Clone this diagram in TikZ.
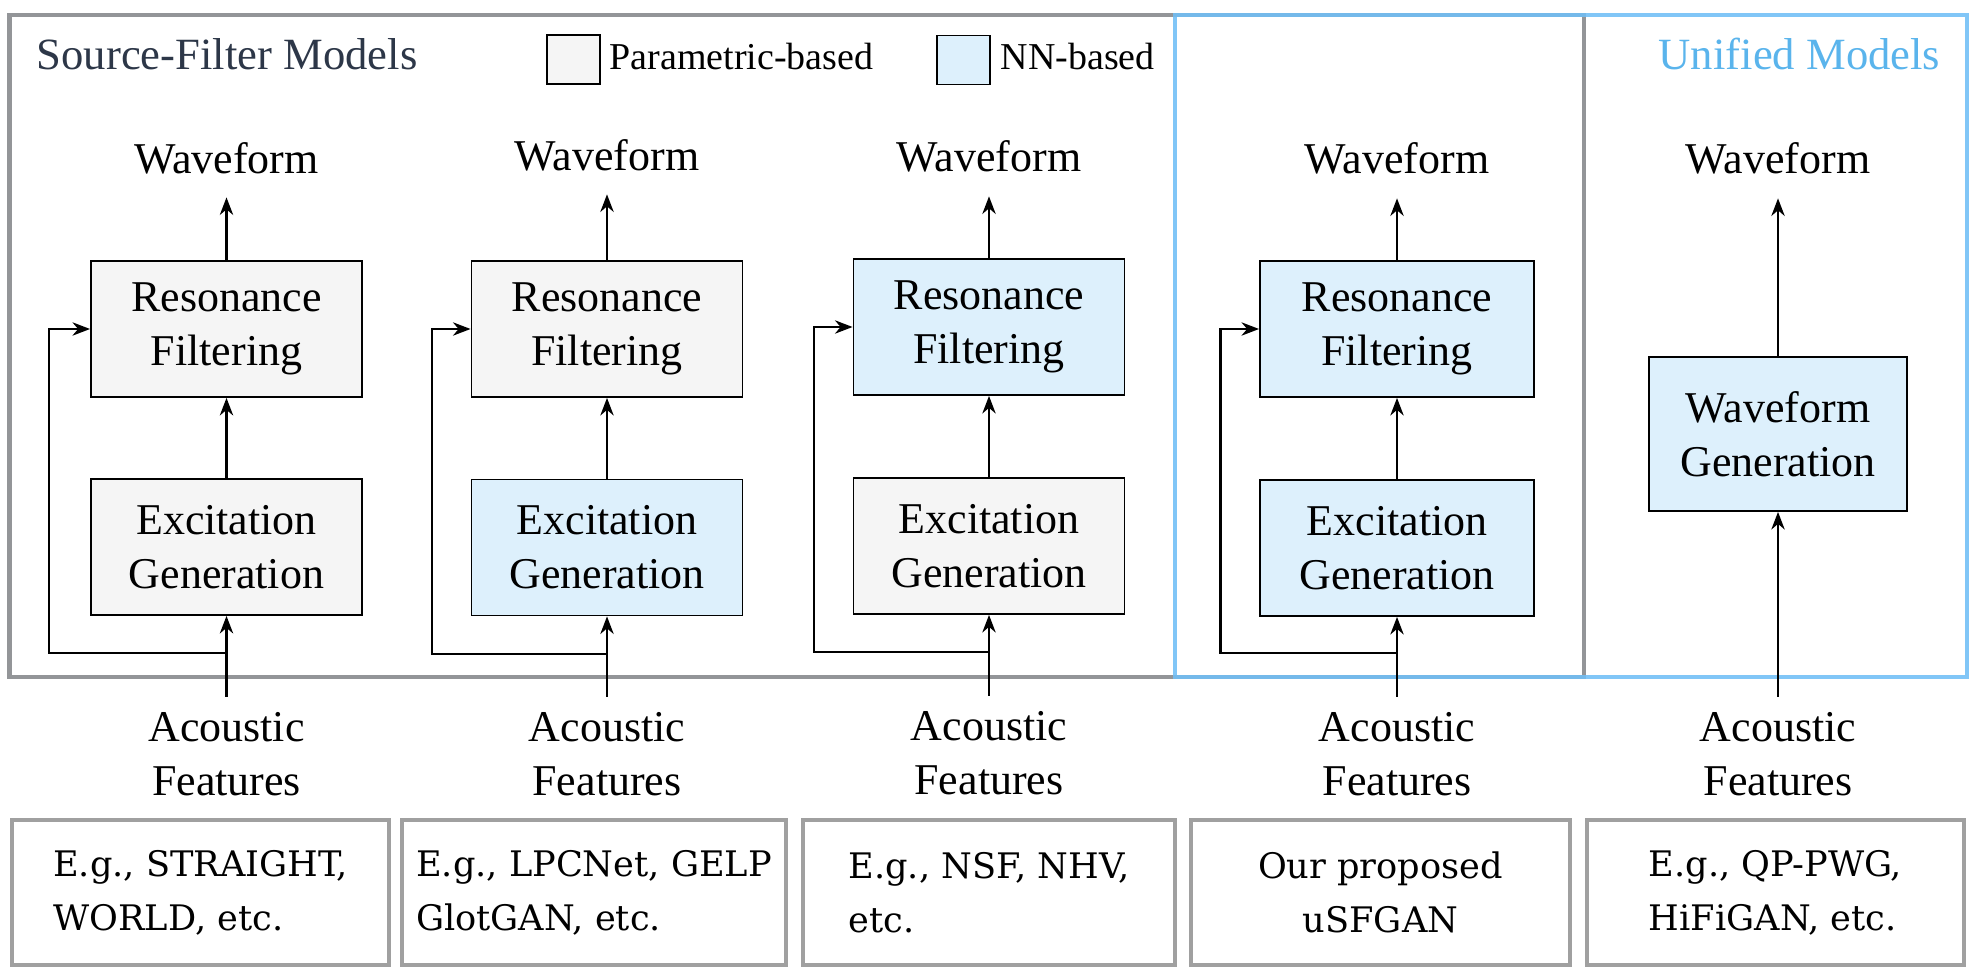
\documentclass[tikz,border=0pt]{standalone}
\usepackage{fontspec}
\setmainfont{Liberation Serif}
\newfontfamily\exfont{DejaVu Serif}
\usetikzlibrary{arrows.meta}
\definecolor{pgray}{RGB}{245,245,245}
\definecolor{nnblue}{RGB}{221,240,252}
\definecolor{framegray}{RGB}{147,149,152}
\definecolor{boxgray}{RGB}{160,160,160}
\definecolor{frameblue}{RGB}{112,190,246}
\definecolor{titleblue}{RGB}{90,180,236}
\definecolor{titledark}{RGB}{45,55,72}
\newcommand{\mainsz}{\fontsize{12.5}{15.3}\selectfont}
\newcommand{\legsz}{\fontsize{10.8}{13}\selectfont}
\newcommand{\titsz}{\fontsize{12.7}{15}\selectfont}
\newcommand{\exsz}{\exfont\fontsize{10}{15.4}\selectfont}
\begin{document}
\begin{tikzpicture}[x=0.01cm,y=-0.01cm,
  blk/.style={draw=black,line width=0.5pt,minimum width=2.71cm,minimum height=1.36cm,inner sep=0pt,align=center,font=\mainsz},
  pblk/.style={blk,fill=pgray},
  nblk/.style={blk,fill=nnblue},
  wave/.style={font=\mainsz,inner xsep=0pt,inner ysep=0.23cm,anchor=base},
  feat/.style={font=\mainsz,align=center,inner xsep=0pt,inner ysep=0.15cm},
  arr/.style={line width=0.6pt,-{Stealth[length=5pt,width=3.8pt,inset=1.6pt]}},
  exbox/.style={draw=boxgray,line width=1.14pt,minimum height=1.45cm,inner sep=0pt,font=\exsz},
  legsq/.style={draw=black,line width=0.5pt,minimum width=0.53cm,minimum height=0.49cm,inner sep=0pt},
  legtxt/.style={font=\legsz,inner sep=0pt,anchor=base west},
  frame/.style={line width=1.14pt}
]
\useasboundingbox (0,0) rectangle (1970,976);

% frames
\draw[frame,draw=framegray] (9.5,15) rectangle (1584,676.5);
\draw[frame,draw=frameblue,draw opacity=0.88] (1175,15) rectangle (1967,676.5);

% titles and legend
\node[font=\titsz,text=titledark,inner sep=0pt,anchor=base west] (tsf) at (36,70) {Source-Filter Models};
\node[font=\titsz,text=titleblue,inner sep=0pt,anchor=base east] (tun) at (1941,70) {Unified Models};
\node[legsq,fill=pgray] (lg1) at (573.5,59.5) {};
\node[legtxt] (lt1) at (609,70) {Parametric-based};
\node[legsq,fill=nnblue] (lg2) at (963.5,60) {};
\node[legtxt] (lt2) at (1000,70) {NN-based};

% column 1
\node[pblk] (r1) at (226.5,329) {Resonance\\Filtering};
\node[pblk] (e1) at (226.5,547) {Excitation\\Generation};
\node[wave] (w1) at (226.5,173) {Waveform};
\node[feat] (a1) at (226.5,754) {Acoustic\\Features};
\coordinate (j1) at (226.5,653);
\coordinate (f1) at (49,653);
\draw[arr] (r1.north) -- (w1.south);
\draw[arr] (e1.north) -- (r1.south);
\draw[arr] (a1.north) -- (e1.south);
\draw[arr] (j1) -- (f1) |- (r1.west);

% column 2
\node[pblk] (r2) at (607,329) {Resonance\\Filtering};
\node[nblk] (e2) at (607,547.5) {Excitation\\Generation};
\node[wave] (w2) at (607,170) {Waveform};
\node[feat] (a2) at (607,754) {Acoustic\\Features};
\coordinate (j2) at (607,654);
\coordinate (f2) at (432,654);
\draw[arr] (r2.north) -- (w2.south);
\draw[arr] (e2.north) -- (r2.south);
\draw[arr] (a2.north) -- (e2.south);
\draw[arr] (j2) -- (f2) |- (r2.west);

% column 3
\node[nblk] (r3) at (989,327) {Resonance\\Filtering};
\node[pblk] (e3) at (989,546) {Excitation\\Generation};
\node[wave] (w3) at (989,172) {Waveform};
\node[feat] (a3) at (989,753) {Acoustic\\Features};
\coordinate (j3) at (989,652);
\coordinate (f3) at (814,652);
\draw[arr] (r3.north) -- (w3.south);
\draw[arr] (e3.north) -- (r3.south);
\draw[arr] (a3.north) -- (e3.south);
\draw[arr] (j3) -- (f3) |- (r3.west);

% column 4 (uSFGAN)
\node[nblk,minimum width=2.74cm] (r4) at (1397,329) {Resonance\\Filtering};
\node[nblk,minimum width=2.74cm] (e4) at (1397,548) {Excitation\\Generation};
\node[wave] (w4) at (1397,174) {Waveform};
\node[feat] (a4) at (1397,754) {Acoustic\\Features};
\coordinate (j4) at (1397,653);
\coordinate (f4) at (1220.5,653);
\draw[arr] (r4.north) -- (w4.south);
\draw[arr] (e4.north) -- (r4.south);
\draw[arr] (a4.north) -- (e4.south);
\draw[arr] (j4) -- (f4) |- (r4.west);

% column 5 (unified)
\node[nblk,minimum width=2.58cm,minimum height=1.54cm] (g5) at (1778,434) {Waveform\\Generation};
\node[wave] (w5) at (1778,174) {Waveform};
\node[feat] (a5) at (1778,754) {Acoustic\\Features};
\draw[arr] (g5.north) -- (w5.south);
\draw[arr] (a5.north) -- (g5.south);

% example boxes
\node[exbox,minimum width=3.77cm,align=left] (x1) at (200.5,892.5) {E.g., STRAIGHT,\\WORLD, etc.};
\node[exbox,minimum width=3.84cm,align=left] (x2) at (594,892.5) {E.g., LPCNet, GELP\\GlotGAN, etc.};
\node[exbox,minimum width=3.72cm,align=left] (x3) at (989,892.5) {E.g., NSF, NHV,\\etc.};
\node[exbox,minimum width=3.79cm,align=center] (x4) at (1380.5,892.5) {Our proposed\\uSFGAN};
\node[exbox,minimum width=3.77cm,align=left] (x5) at (1775.5,892.5) {E.g., QP-PWG,\\HiFiGAN, etc.};
\end{tikzpicture}
\end{document}
